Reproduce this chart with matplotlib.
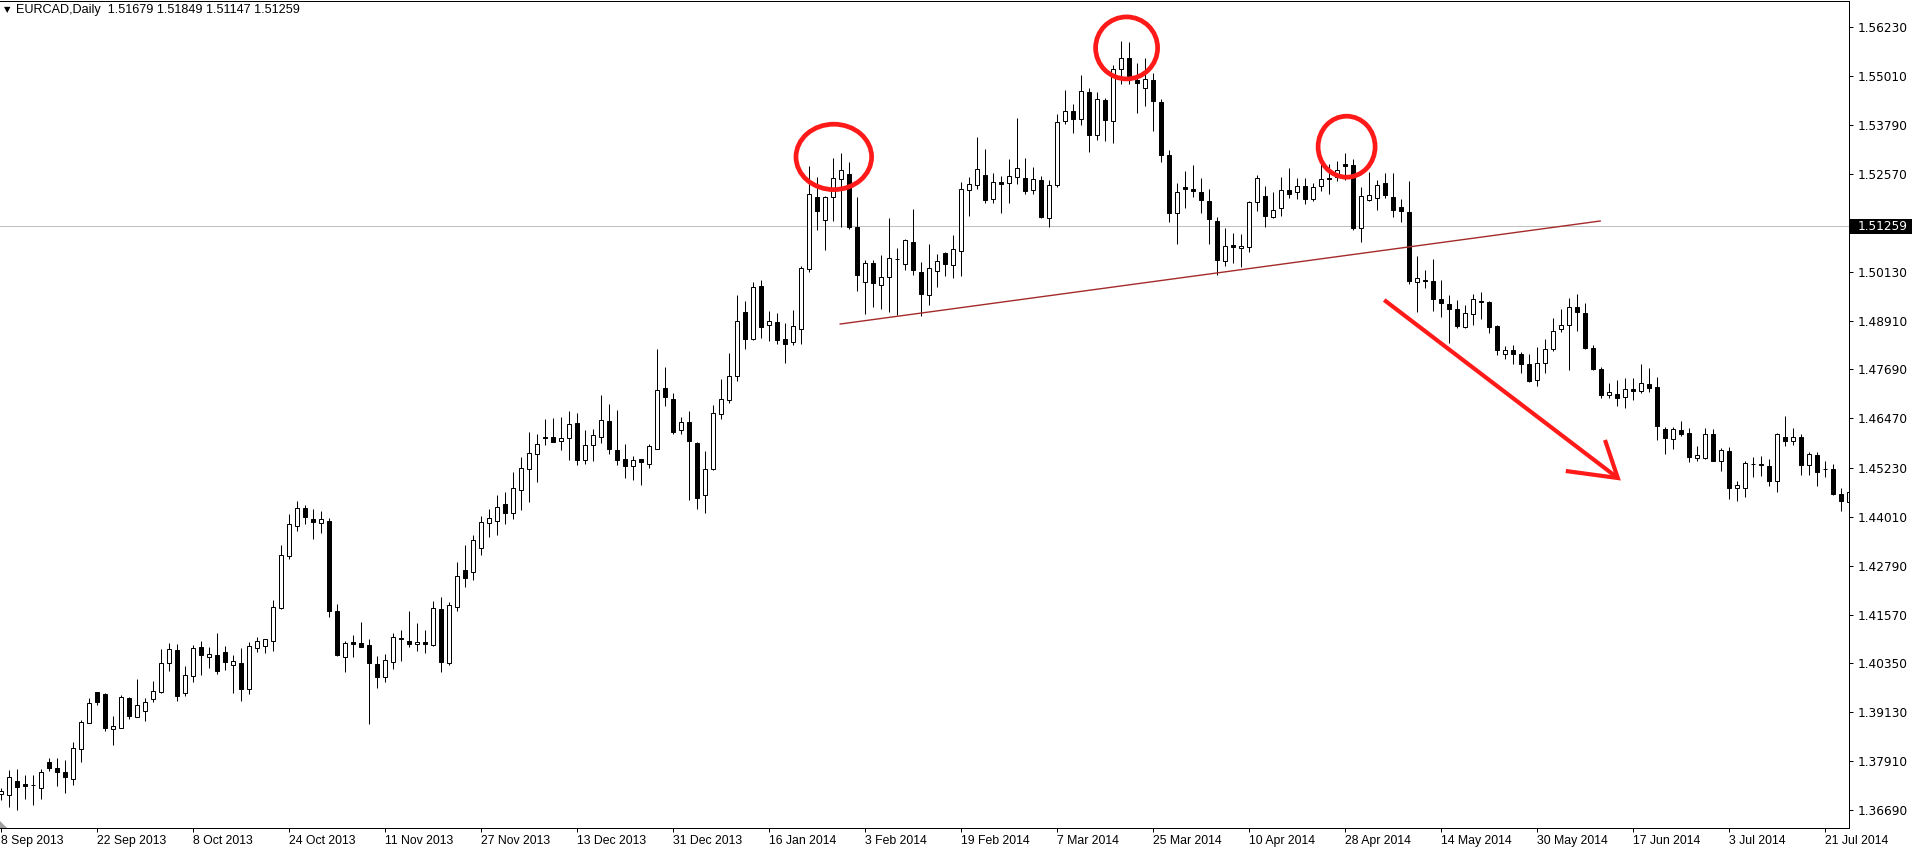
import matplotlib
matplotlib.use("Agg")
import matplotlib.pyplot as plt
from matplotlib.patches import Ellipse, Rectangle, Polygon
import numpy as np

# ---------------- data (EURCAD daily) ----------------
opens = [1.37082, 1.37057, 1.37407, 1.37349, 1.37315, 1.37249, 1.37889, 1.37740, 1.37640, 1.37473,
         1.38206, 1.38855, 1.39628, 1.39578, 1.38721, 1.38746, 1.39479, 1.39021, 1.39154, 1.39470,
         1.39645, 1.40352, 1.40677, 1.39603, 1.40028, 1.40752, 1.40502, 1.40552, 1.40627, 1.40302,
         1.40360, 1.39703, 1.40726, 1.40776, 1.40901, 1.41725, 1.43023, 1.43772, 1.44221, 1.43946,
         1.43846, 1.43905, 1.41650, 1.40502, 1.40884, 1.40851, 1.40810, 1.40335, 1.40003, 1.40394,
         1.40976, 1.40901, 1.40826, 1.40884, 1.40818, 1.41708, 1.40369, 1.41766, 1.42682, 1.42631,
         1.43231, 1.43847, 1.43912, 1.44322, 1.44114, 1.44688, 1.45195, 1.45570, 1.45994, 1.45994,
         1.45894, 1.45969, 1.46343, 1.45420, 1.45794, 1.45994, 1.46393, 1.45669, 1.45445, 1.45270,
         1.45445, 1.45320, 1.45694, 1.47217, 1.46942, 1.46169, 1.46368, 1.45853, 1.44547, 1.45212,
         1.46569, 1.46918, 1.47517, 1.49115, 1.48441, 1.49772, 1.48790, 1.48865, 1.48449, 1.48366,
         1.48707, 1.50188, 1.51993, 1.51411, 1.51993, 1.52434, 1.52567, 1.51236, 1.49863, 1.50338,
         1.49788, 1.49996, 1.50446, 1.50313, 1.50862, 1.50113, 1.49540, 1.50139, 1.50588, 1.50288,
         1.50638, 1.52160, 1.52285, 1.52535, 1.51936, 1.52360, 1.52335, 1.52485, 1.52460, 1.52160,
         1.52410, 1.51462, 1.52285, 1.53883, 1.54132, 1.53933, 1.54607, 1.53550, 1.54407, 1.53883,
         1.55181, 1.55455, 1.54906, 1.54706, 1.54906, 1.54357, 1.53034, 1.51586, 1.52235, 1.52185,
         1.52111, 1.51886, 1.51387, 1.50388, 1.50788, 1.50713, 1.50738, 1.51861, 1.52011, 1.51487,
         1.51711, 1.52160, 1.52111, 1.52260, 1.51936, 1.52260, 1.52460, 1.52485, 1.52809, 1.52784,
         1.51212, 1.51911, 1.51961, 1.52334, 1.51985, 1.51735, 1.51611, 1.49863, 1.49913, 1.49888,
         1.49439, 1.49314, 1.49189, 1.48740, 1.49065, 1.49389, 1.49364, 1.48765, 1.48066, 1.48166,
         1.48066, 1.47817, 1.47417, 1.47842, 1.48191, 1.48690, 1.48790, 1.49239, 1.49090, 1.48216,
         1.47692, 1.47043, 1.47067, 1.46992, 1.47192, 1.47142, 1.47317, 1.47242, 1.46202, 1.45960,
         1.46168, 1.46094, 1.45486, 1.45486, 1.46069, 1.45411, 1.45644, 1.44737, 1.44737, 1.45336,
         1.45320, 1.45270, 1.44912, 1.45994, 1.45894, 1.45994, 1.45295, 1.45544, 1.45212, 1.45212,
         1.44588, 1.44388]

highs = [1.37232, 1.37690, 1.37715, 1.37565, 1.37565, 1.37715, 1.37989, 1.37989, 1.37939, 1.38389,
         1.38938, 1.39487, 1.39637, 1.39603, 1.39038, 1.39553, 1.39520, 1.39961, 1.39479, 1.39911,
         1.40702, 1.40851, 1.40835, 1.40277, 1.40801, 1.40901, 1.40752, 1.41109, 1.40777, 1.40560,
         1.40726, 1.40876, 1.41001, 1.40959, 1.41933, 1.43306, 1.44079, 1.44404, 1.44304, 1.44204,
         1.44154, 1.43971, 1.41833, 1.40901, 1.41059, 1.41384, 1.40959, 1.40535, 1.40585, 1.41101,
         1.41184, 1.41658, 1.41359, 1.41184, 1.41908, 1.42008, 1.41883, 1.42881, 1.43306, 1.43555,
         1.44029, 1.44204, 1.44554, 1.44621, 1.45129, 1.45503, 1.46127, 1.46069, 1.46452, 1.46477,
         1.46501, 1.46651, 1.46601, 1.46177, 1.46202, 1.47051, 1.46826, 1.46676, 1.45828, 1.45520,
         1.45461, 1.45819, 1.48199, 1.47749, 1.47101, 1.46501, 1.46651, 1.45886, 1.45653, 1.46793,
         1.47459, 1.48100, 1.49556, 1.49389, 1.49863, 1.49922, 1.49140, 1.49090, 1.48848, 1.49164,
         1.50271, 1.52767, 1.52492, 1.52018, 1.52967, 1.53083, 1.52867, 1.51993, 1.50412, 1.50412,
         1.50537, 1.51461, 1.50712, 1.50945, 1.51694, 1.50363, 1.50821, 1.50563, 1.50613, 1.51037,
         1.52360, 1.52485, 1.53483, 1.53184, 1.52585, 1.52527, 1.52934, 1.53958, 1.52959, 1.52735,
         1.52510, 1.52427, 1.54057, 1.54656, 1.54307, 1.55031, 1.54706, 1.54607, 1.54457, 1.55289,
         1.55880, 1.55863, 1.55330, 1.55464, 1.55081, 1.54432, 1.53159, 1.52335, 1.52635, 1.52784,
         1.52460, 1.52185, 1.51487, 1.51212, 1.51087, 1.51062, 1.51886, 1.52535, 1.52260, 1.52111,
         1.52485, 1.52710, 1.52460, 1.52460, 1.52335, 1.52809, 1.52809, 1.52884, 1.53084, 1.52934,
         1.52235, 1.52610, 1.52410, 1.52584, 1.52584, 1.51935, 1.52384, 1.50512, 1.50163, 1.50437,
         1.49913, 1.49539, 1.49414, 1.49289, 1.49564, 1.49614, 1.49389, 1.48790, 1.48266, 1.48291,
         1.48116, 1.48066, 1.48241, 1.48441, 1.48965, 1.49189, 1.49464, 1.49564, 1.49339, 1.48291,
         1.47742, 1.47342, 1.47416, 1.47466, 1.47466, 1.47816, 1.47716, 1.47491, 1.46243, 1.46243,
         1.46393, 1.46218, 1.45769, 1.46218, 1.46202, 1.45736, 1.45744, 1.44896, 1.45395, 1.45495,
         1.45520, 1.45445, 1.46094, 1.46518, 1.46218, 1.46069, 1.45619, 1.45619, 1.45411, 1.45336,
         1.44737, 1.44821]

lows = [1.36941, 1.36775, 1.36691, 1.36966, 1.36825, 1.36966, 1.37673, 1.37299, 1.37124, 1.37324,
        1.37898, 1.38850, 1.39321, 1.38672, 1.38322, 1.38730, 1.38971, 1.39004, 1.38921, 1.39395,
        1.39620, 1.40169, 1.39420, 1.39545, 1.39895, 1.40069, 1.40236, 1.40086, 1.40194, 1.39620,
        1.39420, 1.39595, 1.40627, 1.40602, 1.40668, 1.41720, 1.42964, 1.43663, 1.43838, 1.43464,
        1.43613, 1.41517, 1.40543, 1.40144, 1.40518, 1.40760, 1.38846, 1.39745, 1.39894, 1.40219,
        1.40419, 1.40768, 1.40668, 1.40618, 1.40793, 1.40144, 1.40302, 1.41667, 1.42266, 1.42431,
        1.43056, 1.43505, 1.43555, 1.43839, 1.43964, 1.44180, 1.44380, 1.44879, 1.45811, 1.45880,
        1.45686, 1.45437, 1.45312, 1.45337, 1.45412, 1.45861, 1.45586, 1.45312, 1.44987, 1.44937,
        1.44813, 1.45237, 1.45690, 1.46776, 1.46085, 1.46085, 1.44438, 1.44197, 1.44098, 1.45171,
        1.46460, 1.46860, 1.47409, 1.48208, 1.48435, 1.48482, 1.48407, 1.48316, 1.47858, 1.48291,
        1.48332, 1.50130, 1.51178, 1.50679, 1.51403, 1.51253, 1.51186, 1.49655, 1.49081, 1.49239,
        1.49206, 1.49131, 1.49056, 1.50180, 1.50055, 1.49015, 1.49298, 1.49756, 1.50031, 1.49964,
        1.50031, 1.51512, 1.52185, 1.51853, 1.51853, 1.51603, 1.51836, 1.52310, 1.52061, 1.52061,
        1.51480, 1.51254, 1.52235, 1.53808, 1.53583, 1.53783, 1.53109, 1.53425, 1.53384, 1.53334,
        1.54806, 1.54806, 1.54082, 1.54257, 1.53650, 1.52859, 1.51362, 1.50813, 1.51711, 1.51986,
        1.51586, 1.50813, 1.50039, 1.50264, 1.50338, 1.50239, 1.50613, 1.51653, 1.51237, 1.51462,
        1.51512, 1.51961, 1.51936, 1.51811, 1.51886, 1.52136, 1.52061, 1.52385, 1.52410, 1.51162,
        1.50863, 1.51886, 1.51661, 1.51960, 1.51486, 1.51378, 1.49822, 1.49115, 1.49714, 1.49140,
        1.48990, 1.48341, 1.48715, 1.48735, 1.48790, 1.48940, 1.48590, 1.48041, 1.47941, 1.47817,
        1.47592, 1.47385, 1.47268, 1.47592, 1.48141, 1.48615, 1.47667, 1.48640, 1.48191, 1.47667,
        1.46968, 1.46968, 1.46768, 1.46718, 1.46917, 1.47092, 1.47117, 1.45936, 1.45586, 1.45711,
        1.46035, 1.45386, 1.45411, 1.45461, 1.45406, 1.45162, 1.44463, 1.44413, 1.44513, 1.45012,
        1.45020, 1.44787, 1.44638, 1.45786, 1.45811, 1.45062, 1.45062, 1.44787, 1.45012, 1.44563,
        1.44163, 1.44263]

closes = [1.37166, 1.37507, 1.37274, 1.37299, 1.37307, 1.37632, 1.37748, 1.37648, 1.37523, 1.38231,
          1.38880, 1.39354, 1.39379, 1.38746, 1.38788, 1.39504, 1.39046, 1.39304, 1.39379, 1.39653,
          1.40352, 1.40702, 1.39545, 1.40053, 1.40727, 1.40552, 1.40577, 1.40169, 1.40377, 1.40402,
          1.39720, 1.40776, 1.40901, 1.40951, 1.41750, 1.43048, 1.43821, 1.44221, 1.43996, 1.43871,
          1.43946, 1.41667, 1.40568, 1.40851, 1.40843, 1.40768, 1.40369, 1.40019, 1.40427, 1.41001,
          1.40968, 1.40843, 1.40876, 1.40843, 1.41725, 1.40394, 1.41800, 1.42524, 1.42490, 1.43430,
          1.43872, 1.43972, 1.44247, 1.44114, 1.44721, 1.45220, 1.45595, 1.45819, 1.45986, 1.45886,
          1.45969, 1.46318, 1.45437, 1.45794, 1.46044, 1.46418, 1.45694, 1.45420, 1.45270, 1.45420,
          1.45370, 1.45769, 1.47167, 1.46992, 1.46135, 1.46368, 1.45894, 1.44489, 1.45196, 1.46594,
          1.46943, 1.47517, 1.48890, 1.48457, 1.49747, 1.48757, 1.48890, 1.48432, 1.48332, 1.48773,
          1.50213, 1.52060, 1.51636, 1.51993, 1.52459, 1.52659, 1.51244, 1.50055, 1.50338, 1.49838,
          1.49996, 1.50462, 1.50438, 1.50912, 1.50163, 1.49564, 1.50214, 1.50388, 1.50313, 1.50688,
          1.52185, 1.52310, 1.52685, 1.51928, 1.52360, 1.52310, 1.52510, 1.52710, 1.52136, 1.52435,
          1.51487, 1.52285, 1.53858, 1.54132, 1.53933, 1.54632, 1.53550, 1.54432, 1.53908, 1.55181,
          1.55455, 1.55006, 1.54831, 1.54931, 1.54382, 1.53034, 1.51586, 1.52111, 1.52185, 1.52136,
          1.51911, 1.51437, 1.50413, 1.50763, 1.50738, 1.50763, 1.51861, 1.52460, 1.51512, 1.51661,
          1.52160, 1.52061, 1.52260, 1.51936, 1.52235, 1.52435, 1.52435, 1.52660, 1.52760, 1.51212,
          1.52011, 1.52036, 1.52285, 1.52035, 1.51660, 1.51636, 1.49888, 1.49963, 1.49888, 1.49439,
          1.49339, 1.49189, 1.48765, 1.49090, 1.49439, 1.49364, 1.48740, 1.48166, 1.48166, 1.48066,
          1.47817, 1.47392, 1.47842, 1.48191, 1.48640, 1.48790, 1.49239, 1.49115, 1.48216, 1.47692,
          1.47043, 1.47118, 1.46967, 1.47192, 1.47142, 1.47342, 1.47217, 1.46285, 1.45985, 1.46202,
          1.46085, 1.45511, 1.45561, 1.46069, 1.45411, 1.45686, 1.44737, 1.44796, 1.45345, 1.45320,
          1.45312, 1.44912, 1.46069, 1.45894, 1.45994, 1.45312, 1.45569, 1.45137, 1.45195, 1.44588,
          1.44413, 1.44638]

date_labels = ["8 Sep 2013", "22 Sep 2013", "8 Oct 2013", "24 Oct 2013", "11 Nov 2013",
               "27 Nov 2013", "13 Dec 2013", "31 Dec 2013", "16 Jan 2014", "3 Feb 2014",
               "19 Feb 2014", "7 Mar 2014", "25 Mar 2014", "10 Apr 2014", "28 Apr 2014",
               "14 May 2014", "30 May 2014", "17 Jun 2014", "3 Jul 2014", "21 Jul 2014"]
date_label_bars = [0, 12, 24, 36, 48, 60, 72, 84, 96, 108, 120, 132, 144, 156, 168,
                   180, 192, 204, 216, 228]

price_ticks = [1.36690, 1.37910, 1.39130, 1.40350, 1.41570, 1.42790, 1.44010, 1.45230,
               1.46470, 1.47690, 1.48910, 1.50130, 1.51350, 1.52570, 1.53790, 1.55010, 1.56230]

bid_price = 1.51259
header = "EURCAD,Daily  1.51679 1.51849 1.51147 1.51259"

# neckline (bar index, price)
neck_bars = [104.9, 199.9]
neck_prices = [1.48822, 1.51394]

# circled peaks: (bar, price)
circle_bars = [104.1, 140.7, 168.2]
circle_prices = [1.52994, 1.55715, 1.53249]

# down arrow: start -> tip, head barbs
arrow_bars = [172.9, 202.1]
arrow_prices = [1.49422, 1.44978]
head_bars = [200.5, 202.1, 195.6]
head_prices = [1.45927, 1.44978, 1.45153]

# ---------------- figure ----------------
W, H = 1915, 856
fig = plt.figure(figsize=(W / 100, H / 100), dpi=100)
fig.patch.set_facecolor("white")

ax_left, ax_right, ax_top, ax_bottom = 0, 1849, 1, 828  # pixel frame
ax = fig.add_axes([ax_left / W, 1 - ax_bottom / H, (ax_right - ax_left) / W, (ax_bottom - ax_top) / H])
ax.set_facecolor("white")

n = len(opens)
x = np.arange(n)
o = np.array(opens); h = np.array(highs); l = np.array(lows); c = np.array(closes)
up = c >= o
body_bot = np.minimum(o, c)
body_h = np.abs(c - o)

px = 0.72  # one pixel in points
ax.vlines(x, l, h, color="black", linewidth=px, zorder=2)
ax.bar(x[up], body_h[up], bottom=body_bot[up], width=0.5, facecolor="white",
       edgecolor="black", linewidth=px, zorder=3)
ax.bar(x[~up], body_h[~up], bottom=body_bot[~up], width=0.5, facecolor="black",
       edgecolor="black", linewidth=px, zorder=3)

# bid line
ax.axhline(bid_price, color="#c0c0c0", linewidth=px, zorder=1)

# neckline
ax.plot(neck_bars, neck_prices, color="#a52a2a", linewidth=1.0, zorder=4)

# circles
units_per_px_x = 1 / 8.0
units_per_px_y = 1 / 4005.8
circle_rx = [37.8, 31.0, 28.5]
circle_ry = [32.7, 31.0, 30.5]
for cb, cp, rx, ry in zip(circle_bars, circle_prices, circle_rx, circle_ry):
    ax.add_patch(Ellipse((cb, cp), 2 * rx * units_per_px_x, 2 * ry * units_per_px_y,
                         fill=False, edgecolor="#ff1a1a", linewidth=3.4, zorder=5))

# arrow
ax.plot(arrow_bars, arrow_prices, color="#ff1a1a", linewidth=3.0, solid_capstyle="butt", zorder=5)
ax.plot(head_bars, head_prices, color="#ff1a1a", linewidth=3.0, solid_joinstyle="miter",
        solid_capstyle="butt", zorder=5)

# limits
ax.set_xlim(-0.125, 231.0)
ax.set_ylim(1.36241, 1.56886)

# spines
for s in ["top", "right", "bottom"]:
    ax.spines[s].set_color("black")
    ax.spines[s].set_linewidth(px)
ax.spines["left"].set_visible(False)

# price axis
ax.yaxis.tick_right()
ax.set_yticks(price_ticks)
ax.set_yticklabels([f"{p:.5f}" for p in price_ticks])
ax.tick_params(axis="y", which="both", direction="out", length=3, width=px, pad=3.5,
               labelsize=8.7, colors="black", left=False)
for lab in ax.get_yticklabels():
    lab.set_family("DejaVu Sans")

# date axis
ax.set_xticks(date_label_bars)
ax.set_xticklabels(date_labels)
ax.tick_params(axis="x", which="both", direction="out", length=3, width=px, pad=2,
               labelsize=8.8, colors="black")
for lab in ax.get_xticklabels():
    lab.set_horizontalalignment("left")
    lab.set_family("Liberation Sans")

# bid price label box on the price scale
fig.add_artist(Rectangle((1850 / W, 1 - 234 / H), 62 / W, 15 / H, transform=fig.transFigure,
                         facecolor="black", edgecolor="none", zorder=5))
fig.text(1858 / W, 1 - 226.5 / H, "1.51259", color="white", fontsize=8.7, family="DejaVu Sans",
         va="center", ha="left", zorder=6)

# header
fig.text(4 / W, 1 - 10 / H, "\u25BC", fontsize=6, family="DejaVu Sans", va="center", ha="left")
fig.text(16 / W, 1 - 10 / H, header, fontsize=9.1, family="Liberation Sans", va="center", ha="left")

# shift marker triangle bottom-left
fig.add_artist(Polygon([(0, 1 - 828 / H), (0, 1 - 821 / H), (7 / W, 1 - 828 / H)], closed=True,
                       transform=fig.transFigure, facecolor="#a0a0a0", edgecolor="none", zorder=6))

fig.savefig("out.png", dpi=100, facecolor="white")
